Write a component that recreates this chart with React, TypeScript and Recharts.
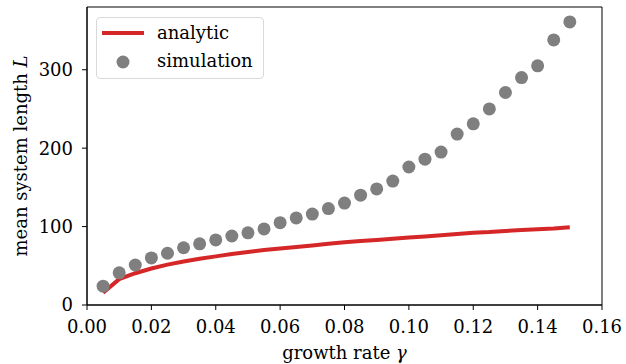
import {
  ComposedChart,
  Line,
  Scatter,
  XAxis,
  YAxis,
  Label,
  ReferenceArea,
} from "recharts";

const gammas = [
  0.005, 0.01, 0.015, 0.02, 0.025, 0.03, 0.035, 0.04, 0.045, 0.05,
  0.055, 0.06, 0.065, 0.07, 0.075, 0.08, 0.085, 0.09, 0.095, 0.1,
  0.105, 0.11, 0.115, 0.12, 0.125, 0.13, 0.135, 0.14, 0.145, 0.15,
];

const analytic = [
  15.5, 33, 40.5, 46.5, 51.5, 55.5, 59, 62, 65, 67.5,
  70, 72, 74, 76, 78, 80, 81.5, 83, 84.5, 86,
  87.5, 89, 90.5, 92, 93, 94.5, 95.5, 96.5, 97.5, 99,
];

const simulation = [
  24, 41, 51, 60, 66, 73, 78, 83, 88, 92,
  97, 105, 111, 116, 123, 130, 140, 148, 158, 176,
  186, 195, 218, 231, 250, 271, 290, 305, 338, 361,
];

const xTicks = [0, 0.02, 0.04, 0.06, 0.08, 0.1, 0.12, 0.14, 0.16];
const yTicks = [0, 100, 200, 300];

const data = gammas.map((g, i) => ({
  gamma: g,
  analytic: analytic[i],
  sim: simulation[i],
}));

const FONT = "'DejaVu Serif', serif";
const FS = 18;
const RED = "#d62728";
const GRAY = "#7f7f7f";

function LegendBox() {
  return (
    <div
      style={{
        position: "absolute",
        left: 96,
        top: 17,
        width: 166,
        height: 60,
        border: "1px solid #d9d9d9",
        borderRadius: 4,
        background: "rgba(255,255,255,0.8)",
        fontFamily: FONT,
        fontSize: FS,
        color: "#000",
      }}
    >
      <svg width={50} height={60} style={{ position: "absolute", left: 0, top: 0 }}>
        <line x1={5} x2={47} y1={15} y2={15} stroke={RED} strokeWidth={4} />
        <circle cx={26} cy={44} r={6.5} fill={GRAY} />
      </svg>
      <div style={{ position: "absolute", left: 60, top: 3, lineHeight: "24px" }}>analytic</div>
      <div style={{ position: "absolute", left: 60, top: 31, lineHeight: "24px" }}>simulation</div>
    </div>
  );
}

export default function App() {
  return (
    <div style={{ position: "absolute", left: 0, top: 0, width: 626, height: 364, background: "#fff" }}>
      <ComposedChart
        width={626}
        height={364}
        data={data}
        margin={{ top: 7, right: 24, left: 0, bottom: 0 }}
      >
        <XAxis
          dataKey="gamma"
          type="number"
          domain={[0, 0.16]}
          ticks={xTicks}
          tickFormatter={(v: number) => v.toFixed(2)}
          height={59}
          tickSize={5}
          tickMargin={10}
          stroke="#000"
          tick={{ fill: "#000", fontFamily: FONT, fontSize: FS }}
          interval={0}
        >
          <Label
            content={(props: any) => {
              const vb = props.viewBox || {};
              return (
                <text
                  x={vb.x + vb.width / 2}
                  y={359}
                  textAnchor="middle"
                  fontFamily={FONT}
                  fontSize={FS}
                  fill="#000"
                >
                  growth rate <tspan fontStyle="italic">γ</tspan>
                </text>
              );
            }}
          />
        </XAxis>
        <YAxis
          type="number"
          domain={[0, 380]}
          ticks={yTicks}
          width={87}
          tickSize={5}
          tickMargin={9}
          stroke="#000"
          tick={{ fill: "#000", fontFamily: FONT, fontSize: FS }}
          interval={0}
        >
          <Label
            content={(props: any) => {
              const vb = props.viewBox || {};
              const cy = vb.y + vb.height / 2;
              return (
                <text
                  x={27}
                  y={cy}
                  transform={`rotate(-90, 27, ${cy})`}
                  textAnchor="middle"
                  fontFamily={FONT}
                  fontSize={FS}
                  fill="#000"
                >
                  mean system length <tspan fontStyle="italic">L</tspan>
                </text>
              );
            }}
          />
        </YAxis>
        <ReferenceArea
          x1={0}
          x2={0.16}
          y1={0}
          y2={380}
          fill="none"
          stroke="#000"
          strokeWidth={1}
          ifOverflow="visible"
        />
        <Scatter
          dataKey="sim"
          isAnimationActive={false}
          shape={(p: any) => <circle cx={p.cx} cy={p.cy} r={6.5} fill={GRAY} />}
        />
        <Line
          dataKey="analytic"
          type="linear"
          stroke={RED}
          strokeWidth={4}
          dot={false}
          activeDot={false}
          isAnimationActive={false}
        />
      </ComposedChart>
      <LegendBox />
    </div>
  );
}
